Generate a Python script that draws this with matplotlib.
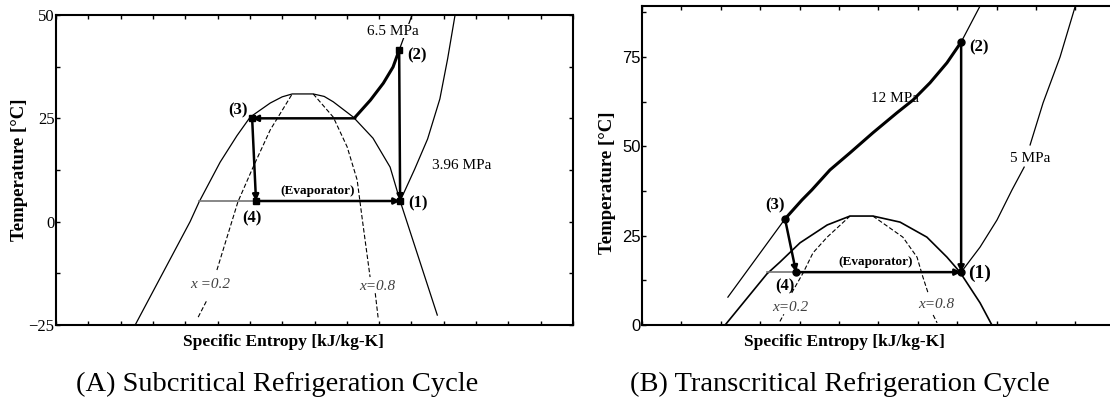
import numpy as np
import matplotlib
matplotlib.use('Agg')
import matplotlib.pyplot as plt
from matplotlib.ticker import MultipleLocator, NullFormatter

SERIF = 'Liberation Serif'
SANS = 'Liberation Sans'

# ---------- (A) subcritical cycle, entropy in tick units ----------
sub_dome_s = [2.45, 4.15, 4.43, 5.08, 5.60, 6.01, 6.63, 7.00, 7.31, 7.96, 8.30, 8.58, 9.20, 9.81, 10.34, 10.65, 11.80]
sub_dome_T = [-25, 0, 4.8, 14.4, 20.8, 25.3, 28.7, 30.2, 30.9, 30.9, 30.3, 29.0, 25.3, 20.2, 13.2, 5.0, -22.6]

sub_x02_lo_s = [4.40, 4.67]
sub_x02_lo_T = [-23.1, -19.0]
sub_x02_hi_s = [4.98, 5.63, 6.10, 6.63, 7.31]
sub_x02_hi_T = [-11.7, 4.8, 13.2, 22.2, 30.9]

sub_x08_hi_s = [7.96, 8.58, 9.01, 9.32, 9.47, 9.72]
sub_x08_hi_T = [30.9, 25.3, 18.1, 10.1, 1.1, -13.4]
sub_x08_lo_s = [9.88, 9.97]
sub_x08_lo_T = [-17.3, -23.3]

sub_hp_s = [9.26, 9.73, 10.13, 10.43, 10.62]      # 6.5 MPa, superheated part
sub_hp_T = [25.3, 29.4, 33.5, 37.4, 41.5]
sub_hp_top_s = [10.62, 11.02]
sub_hp_top_T = [41.5, 50]
sub_lp_s = [10.65, 11.10, 11.50, 11.88, 12.12, 12.35]   # 3.96 MPa
sub_lp_T = [5, 12.7, 20.0, 29.7, 39.4, 50]

sub_state_s = [10.65, 10.62, 6.07, 6.19]         # (1) (2) (3) (4)
sub_state_T = [5, 41.5, 25, 5]
sub_evap_sat_s = 4.43

# ---------- (B) transcritical cycle ----------
tc_dome_s = [2.11, 3.17, 3.50, 4.01, 4.70, 5.28, 5.86, 6.55, 7.23, 7.74, 8.07, 8.58, 8.88]
tc_dome_T = [0, 14.3, 17.6, 23.0, 28.0, 30.5, 30.5, 28.8, 24.6, 19.0, 14.8, 6.2, 0]

tc_x02_lo_s = [3.50, 3.60]
tc_x02_lo_T = [1.0, 3.0]
tc_x02_hi_s = [3.80, 4.09, 4.34, 4.70, 5.28]
tc_x02_hi_T = [9.0, 14.6, 20.2, 24.6, 30.5]

tc_x08_hi_s = [5.86, 6.62, 6.98, 7.13, 7.26]
tc_x08_hi_T = [30.5, 24.6, 19.0, 13.4, 9.0]
tc_x08_lo_s = [7.39, 7.49]
tc_x08_lo_T = [2.8, 0.6]

tc_hp_liq_s = [2.18, 3.63]                        # 12 MPa
tc_hp_liq_T = [7.8, 29.7]
tc_hp_s = [3.63, 4.06, 4.31, 4.77, 5.28, 5.86, 6.47, 6.88, 7.31, 7.74, 8.10]
tc_hp_T = [29.7, 35.0, 37.8, 43.4, 48.2, 53.8, 59.4, 63.0, 67.8, 73.4, 79.2]
tc_hp_top_s = [8.10, 8.58]
tc_hp_top_T = [79.2, 89.3]

tc_lp_lo_s = [8.10, 8.58, 9.01, 9.39, 9.70]       # 5 MPa
tc_lp_lo_T = [14.8, 21.8, 29.4, 37.8, 44.2]
tc_lp_hi_s = [9.85, 10.18, 10.61, 10.99]
tc_lp_hi_T = [50.4, 62.2, 75.0, 89.0]

tc_state_s = [8.10, 8.10, 3.63, 3.91]
tc_state_T = [14.8, 79.2, 29.7, 14.8]
tc_evap_sat_s = 3.17


def arrow(ax, p0, p1, lw=1.8):
    ax.annotate('', xy=p1, xytext=p0,
                arrowprops=dict(arrowstyle='-|>', lw=lw, color='k',
                                mutation_scale=9, shrinkA=0, shrinkB=0))


def style_axes(ax, font, xmax):
    for sp in ax.spines.values():
        sp.set_linewidth(1.5)
    ax.set_xticks(np.arange(0, xmax + 1))
    ax.xaxis.set_major_formatter(NullFormatter())
    ax.yaxis.set_minor_locator(MultipleLocator(12.5))
    ax.tick_params(which='both', direction='in', top=True, right=True,
                   length=3, width=1, pad=1)
    for lab in ax.get_yticklabels():
        lab.set_fontfamily(font)
        lab.set_fontsize(12)


fig = plt.figure(figsize=(11.1, 4.05), dpi=100)

# ================= (A) =================
ax = fig.add_axes([56 / 1110, 1 - 325 / 405, 517 / 1110, 310 / 405])
ax.set_xlim(0, 16)
ax.set_ylim(-25, 50)
ax.set_yticks([-25, 0, 25, 50])
style_axes(ax, SERIF, 16)

thin = dict(color='k', lw=0.9)
dash = dict(color='k', lw=0.8, ls=(0, (4, 2)))
ax.plot(sub_dome_s, sub_dome_T, **thin)
ax.plot(sub_x02_lo_s, sub_x02_lo_T, **dash)
ax.plot(sub_x02_hi_s, sub_x02_hi_T, **dash)
ax.plot(sub_x08_hi_s, sub_x08_hi_T, **dash)
ax.plot(sub_x08_lo_s, sub_x08_lo_T, **dash)
ax.plot(sub_hp_top_s, sub_hp_top_T, **thin)
ax.plot(sub_lp_s, sub_lp_T, **thin)
ax.plot([sub_evap_sat_s, sub_state_s[3]], [sub_state_T[3]] * 2, color='0.45', lw=1.2)

ax.plot(sub_hp_s, sub_hp_T, color='k', lw=2.2)
arrow(ax, (sub_hp_s[0], sub_state_T[2]), (sub_state_s[2], sub_state_T[2]))
arrow(ax, (sub_state_s[1], sub_state_T[1]), (sub_state_s[0], sub_state_T[0]))
arrow(ax, (sub_state_s[2], sub_state_T[2]), (sub_state_s[3], sub_state_T[3]))
arrow(ax, (sub_state_s[3], sub_state_T[3]), (sub_state_s[0], sub_state_T[0]))
ax.plot(sub_state_s, sub_state_T, ls='none', marker='s', ms=4, color='k')

bold = dict(fontfamily=SERIF, fontweight='bold', fontsize=12, ha='center', va='center')
ax.text(11.21, 4.5, '(1)', **bold)
ax.text(11.18, 40.3, '(2)', **bold)
ax.text(5.63, 27.0, '(3)', **bold)
ax.text(6.07, 0.9, '(4)', **bold)
ax.text(8.11, 7.4, '(Evaporator)', fontfamily=SERIF, fontweight='bold',
        fontsize=9.5, ha='center', va='center')
ax.text(10.43, 46.1, '6.5 MPa', fontfamily=SERIF, fontsize=11, ha='center', va='center',
        bbox=dict(facecolor='white', edgecolor='none', pad=0.5))
ax.text(11.64, 13.7, '3.96 MPa', fontfamily=SERIF, fontsize=11, ha='left', va='center')
ax.text(4.77, -15.3, 'x =0.2', fontfamily=SERIF, style='italic', fontsize=11,
        ha='center', va='center', color='0.25')
ax.text(9.94, -15.8, 'x=0.8', fontfamily=SERIF, style='italic', fontsize=11,
        ha='center', va='center', color='0.25')

# ================= (B) =================
bx = fig.add_axes([642 / 1110, 1 - 325 / 405, 472.8 / 1110, 319 / 405])
bx.set_xlim(0, 12)
bx.set_ylim(0, 89.3)
bx.set_yticks([0, 25, 50, 75])
style_axes(bx, SANS, 12)

bx.plot(tc_dome_s, tc_dome_T, color='k', lw=1.2)
bx.plot(tc_x02_lo_s, tc_x02_lo_T, **dash)
bx.plot(tc_x02_hi_s, tc_x02_hi_T, **dash)
bx.plot(tc_x08_hi_s, tc_x08_hi_T, **dash)
bx.plot(tc_x08_lo_s, tc_x08_lo_T, **dash)
bx.plot(tc_hp_liq_s, tc_hp_liq_T, **thin)
bx.plot(tc_hp_top_s, tc_hp_top_T, **thin)
bx.plot(tc_lp_lo_s, tc_lp_lo_T, **thin)
bx.plot(tc_lp_hi_s, tc_lp_hi_T, **thin)
bx.plot([tc_evap_sat_s, tc_state_s[3]], [tc_state_T[3]] * 2, color='0.45', lw=1.2)

bx.plot(tc_hp_s, tc_hp_T, color='k', lw=2.2)
arrow(bx, (tc_state_s[1], tc_state_T[1]), (tc_state_s[0], tc_state_T[0]))
arrow(bx, (tc_state_s[2], tc_state_T[2]), (tc_state_s[3], tc_state_T[3]))
arrow(bx, (tc_state_s[3], tc_state_T[3]), (tc_state_s[0], tc_state_T[0]))
bx.plot(tc_state_s, tc_state_T, ls='none', marker='o', ms=5, color='k')

bx.text(8.58, 14.4, '(1)', fontfamily=SERIF, fontweight='bold', fontsize=14,
        ha='center', va='center')
bx.text(8.55, 77.8, '(2)', **bold)
bx.text(3.38, 33.6, '(3)', **bold)
bx.text(3.63, 10.9, '(4)', **bold)
bx.text(5.94, 17.6, '(Evaporator)', fontfamily=SERIF, fontweight='bold',
        fontsize=9.5, ha='center', va='center')
bx.text(6.42, 63.5, '12 MPa', fontfamily=SERIF, fontsize=11, ha='center', va='center')
bx.text(9.85, 46.5, '5 MPa', fontfamily=SERIF, fontsize=11, ha='center', va='center')
bx.text(3.76, 5.0, 'x=0.2', fontfamily=SERIF, style='italic', fontsize=11,
        ha='center', va='center', color='0.25')
bx.text(7.46, 5.6, 'x=0.8', fontfamily=SERIF, style='italic', fontsize=11,
        ha='center', va='center', color='0.25')

# ---------- axis titles and captions ----------
lab = dict(fontfamily=SERIF, fontweight='bold', fontsize=13.5, ha='center', va='center')
fig.text(20 / 1110, 1 - 170 / 405, 'Temperature [°C]', rotation=90, **lab)
fig.text(607 / 1110, 1 - 183 / 405, 'Temperature [°C]', rotation=90, **lab)
xlab = dict(fontfamily=SERIF, fontweight='bold', fontsize=12.5, ha='center', va='center')
fig.text(283 / 1110, 1 - 342 / 405, 'Specific Entropy [kJ/kg-K]', **xlab)
fig.text(844 / 1110, 1 - 342 / 405, 'Specific Entropy [kJ/kg-K]', **xlab)

cap = dict(fontfamily=SERIF, fontsize=20.5, ha='center', va='center')
fig.text(277 / 1110, 1 - 384 / 405, '(A) Subcritical Refrigeration Cycle', **cap)
fig.text(840 / 1110, 1 - 384 / 405, '(B) Transcritical Refrigeration Cycle', **cap)

fig.savefig('out.png', dpi=100)
